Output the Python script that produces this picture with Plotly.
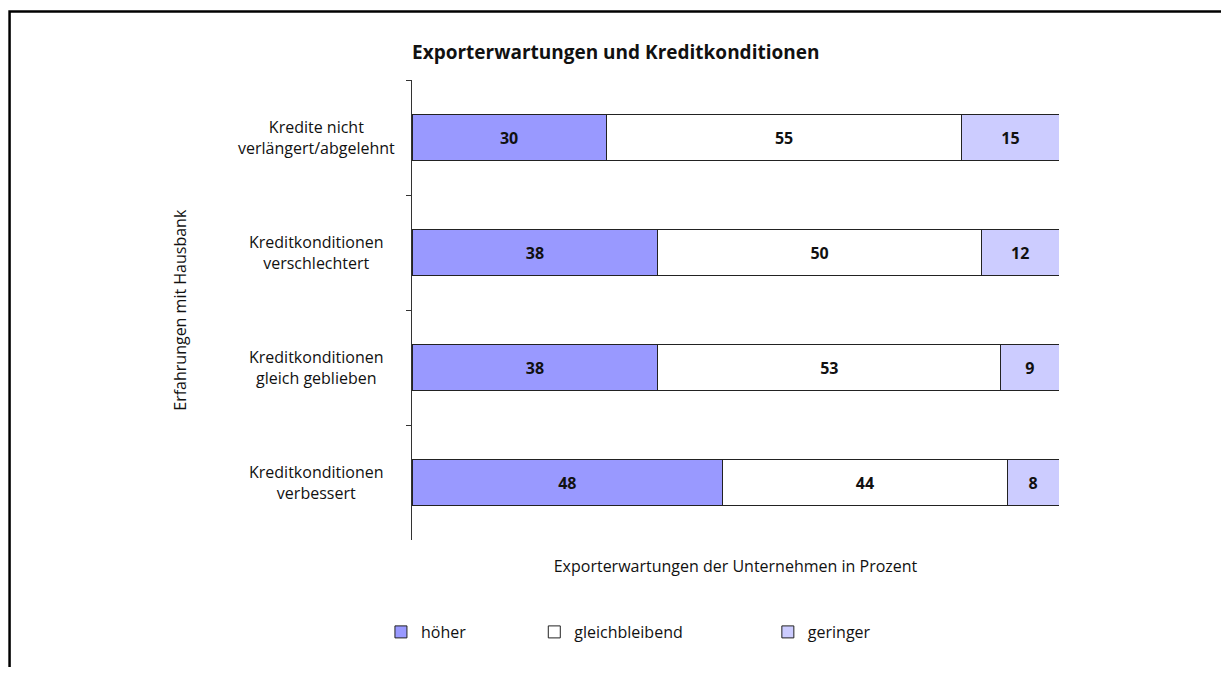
import plotly.graph_objects as go

# Data
categories = [
    "Kredite nicht<br>verlängert/abgelehnt",
    "Kreditkonditionen<br>verschlechtert",
    "Kreditkonditionen<br>gleich geblieben",
    "Kreditkonditionen<br>verbessert",
]
hoeher = [30, 38, 38, 48]
gleichbleibend = [55, 50, 53, 44]
geringer = [15, 12, 9, 8]

series_names = ["höher", "gleichbleibend", "geringer"]
series_values = [hoeher, gleichbleibend, geringer]
colors = ["#9999FF", "#FFFFFF", "#CCCCFF"]
legend_ids = ["legend", "legend2", "legend3"]

FONT = "Open Sans"
TXT = "#111111"

fig = go.Figure()
for name, vals, col, lg in zip(series_names, series_values, colors, legend_ids):
    fig.add_trace(go.Bar(
        y=categories,
        x=vals,
        name=name,
        orientation="h",
        marker=dict(color=col, line=dict(color="#222222", width=1)),
        text=[f"<b>{v}</b>" for v in vals],
        textposition="inside",
        insidetextanchor="middle",
        textangle=0,
        textfont=dict(family=FONT, size=16, color=TXT),
        legend=lg,
    ))

# centered category labels (annotations instead of right-aligned tick labels)
for cat in categories:
    fig.add_annotation(
        x=-0.148, xref="paper", y=cat, yref="y",
        text=cat, showarrow=False, align="center",
        xanchor="center", yanchor="middle",
        font=dict(family=FONT, size=16, color=TXT),
    )

fig.add_annotation(
    x=-0.359, xref="paper", y=0.5, yref="paper",
    text="Erfahrungen mit Hausbank", textangle=-90, showarrow=False,
    xanchor="center", yanchor="middle",
    font=dict(family=FONT, size=16, color=TXT),
)

# outer frame
fig.add_shape(type="rect", xref="paper", yref="paper",
              x0=-0.622, y0=-1.0, x1=2.0, y1=1.149,
              line=dict(color="black", width=2.5), fillcolor="rgba(0,0,0,0)")

leg_common = dict(orientation="h", yanchor="middle", xanchor="left",
                  font=dict(family=FONT, size=16, color=TXT),
                  bgcolor="rgba(0,0,0,0)", itemwidth=30)

fig.update_layout(
    width=1213, height=659,
    barmode="stack",
    bargap=0.6,
    showlegend=True,
    plot_bgcolor="white",
    paper_bgcolor="white",
    margin=dict(l=404, r=162, t=72, b=127),
    title=dict(text="<b>Exporterwartungen und Kreditkonditionen</b>",
               x=0, xref="paper", xanchor="left",
               y=1 - 44 / 659, yanchor="middle",
               font=dict(family=FONT, size=19, color=TXT)),
    xaxis=dict(range=[0, 100], showticklabels=False, showgrid=False,
               zeroline=False, showline=False, ticks="",
               title=dict(text="Exporterwartungen der Unternehmen in Prozent",
                          standoff=20,
                          font=dict(family=FONT, size=16, color=TXT))),
    yaxis=dict(autorange="reversed", showticklabels=False, showgrid=False,
               showline=True, linecolor="#333333", linewidth=1,
               ticks="outside", ticklen=5, tickcolor="#333333",
               tickson="boundaries"),
    legend=dict(x=-0.048, y=-0.2, **leg_common),
    legend2=dict(x=0.189, y=-0.2, **leg_common),
    legend3=dict(x=0.55, y=-0.2, **leg_common),
)

fig.write_html("out.html")
